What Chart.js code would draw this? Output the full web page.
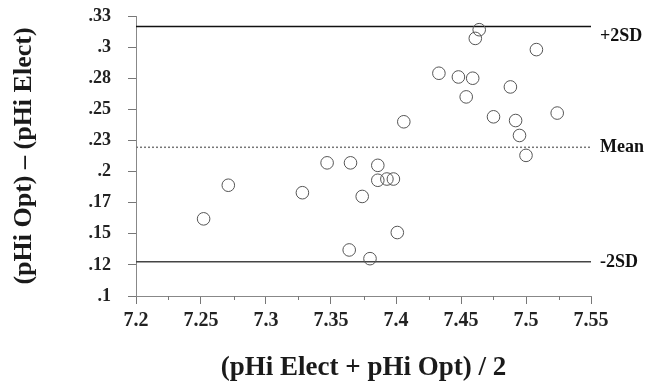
<!DOCTYPE html>
<html>
<head>
<meta charset="utf-8">
<script src="https://cdn.jsdelivr.net/npm/chart.js@4"></script>
<style>
  body { margin: 0; background: #fff; }
  #wrap { width: 650px; height: 392px; position: relative; }
</style>
</head>
<body>
<div id="wrap"><canvas id="baChart"></canvas></div>
<script>
// Bland-Altman: mean of the two methods vs difference
const meanX = [7.252, 7.271, 7.328, 7.347, 7.365, 7.364, 7.374, 7.380, 7.386, 7.386,
               7.393, 7.398, 7.401, 7.406, 7.433, 7.448, 7.454, 7.459, 7.461, 7.464,
               7.475, 7.488, 7.492, 7.495, 7.500, 7.508, 7.524];
const diffY = [0.162, 0.189, 0.183, 0.207, 0.207, 0.137, 0.180, 0.130, 0.205, 0.193,
               0.194, 0.194, 0.151, 0.240, 0.279, 0.276, 0.260, 0.275, 0.307, 0.314,
               0.244, 0.268, 0.241, 0.229, 0.213, 0.298, 0.247];

const meanDiff = 0.2195;
const upperSD = 0.3165;
const lowerSD = 0.1276;
const refLabels = ["+2SD", "Mean", "-2SD"];

const xTickValues = [7.2, 7.25, 7.3, 7.35, 7.4, 7.45, 7.5, 7.55];
const xTickLabels = ["7.2", "7.25", "7.3", "7.35", "7.4", "7.45", "7.5", "7.55"];
const yTickValues = [0.1, 0.125, 0.15, 0.175, 0.2, 0.225, 0.25, 0.275, 0.3, 0.325];
const yTickLabels = [".1", ".12", ".15", ".17", ".2", ".23", ".25", ".28", ".3", ".33"];

const serif = "'Liberation Serif', 'Times New Roman', serif";
const xMin = xTickValues[0], xMax = xTickValues[xTickValues.length - 1];

function hline(y) {
  return [{ x: xMin, y: y }, { x: xMax, y: y }];
}

// minor ticks halfway between the x labels + the right-hand line labels
const extras = {
  id: "extras",
  afterDraw(chart) {
    const ctx = chart.ctx;
    const xs = chart.scales.x, ys = chart.scales.y;
    ctx.save();
    ctx.strokeStyle = "#777";
    ctx.lineWidth = 1;
    for (let i = 0; i < xTickValues.length - 1; i++) {
      const px = Math.round(xs.getPixelForValue((xTickValues[i] + xTickValues[i + 1]) / 2)) + 0.5;
      ctx.beginPath();
      ctx.moveTo(px, xs.top);
      ctx.lineTo(px, xs.top + 4);
      ctx.stroke();
    }
    ctx.fillStyle = "#111";
    ctx.font = "bold 18px " + serif;
    ctx.textBaseline = "middle";
    const lx = chart.chartArea.right + 9;
    ctx.fillText(refLabels[0], lx, ys.getPixelForValue(upperSD) + 10);
    ctx.fillText(refLabels[1], lx, ys.getPixelForValue(meanDiff));
    ctx.fillText(refLabels[2], lx, ys.getPixelForValue(lowerSD) + 1);
    ctx.restore();
  }
};

new Chart(document.getElementById("baChart"), {
  type: "scatter",
  data: {
    datasets: [
      {
        data: meanX.map((x, i) => ({ x: x, y: diffY[i] })),
        pointStyle: "circle",
        pointRadius: 6.3,
        pointBorderWidth: 1,
        borderColor: "#555",
        backgroundColor: "rgba(0,0,0,0)"
      },
      {
        type: "line",
        data: hline(upperSD),
        borderColor: "#111",
        borderWidth: 1.5,
        pointRadius: 0
      },
      {
        type: "line",
        data: hline(meanDiff),
        borderColor: "#777",
        borderWidth: 1.5,
        borderDash: [2, 2],
        pointRadius: 0
      },
      {
        type: "line",
        data: hline(lowerSD),
        borderColor: "#444",
        borderWidth: 1.5,
        pointRadius: 0
      }
    ]
  },
  options: {
    responsive: true,
    maintainAspectRatio: false,
    animation: false,
    layout: { padding: { left: 0, top: 0, right: 59, bottom: 0 } },
    plugins: { legend: { display: false }, tooltip: { enabled: false } },
    scales: {
      x: {
        type: "linear",
        min: xMin,
        max: xMax,
        afterBuildTicks: s => { s.ticks = xTickValues.map(v => ({ value: v })); },
        afterFit: s => { s.height = 96; },
        border: { color: "#888", width: 1 },
        grid: { drawOnChartArea: false, tickLength: 8, color: "#777" },
        ticks: {
          callback: (v, i) => xTickLabels[i],
          font: { family: serif, size: 20, weight: "bold" },
          color: "#222",
          padding: 5,
          maxRotation: 0
        },
        title: {
          display: true,
          text: "(pHi Elect + pHi Opt) / 2",
          font: { family: serif, size: 27, weight: "bold" },
          color: "#1a1a1a",
          padding: { bottom: 8 }
        }
      },
      y: {
        type: "linear",
        min: yTickValues[0],
        max: yTickValues[yTickValues.length - 1],
        afterBuildTicks: s => { s.ticks = yTickValues.map(v => ({ value: v })); },
        afterFit: s => { s.width = 136; s.paddingTop = 16; },
        border: { color: "#888", width: 1 },
        grid: { drawOnChartArea: false, tickLength: 8, color: "#777" },
        ticks: {
          callback: (v, i) => yTickLabels[i],
          font: { family: serif, size: 18, weight: "bold" },
          color: "#222",
          padding: 17
        },
        title: {
          display: true,
          text: "(pHi Opt) – (pHi Elect)",
          font: { family: serif, size: 26, weight: "bold" },
          color: "#1a1a1a",
          padding: { top: 9 }
        }
      }
    }
  },
  plugins: [extras]
});
</script>
</body>
</html>
